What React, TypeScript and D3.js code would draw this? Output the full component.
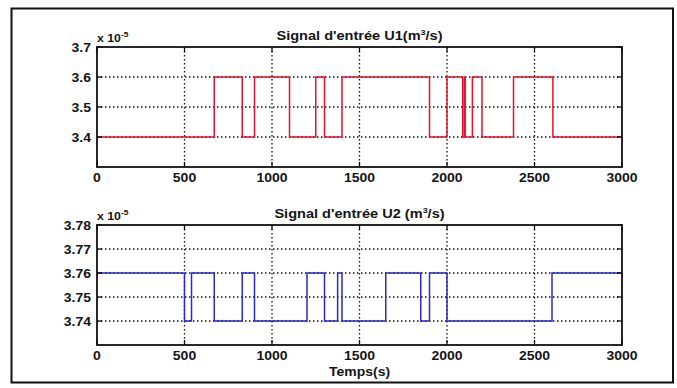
import React from "react";
import * as d3 from "d3";

const xTicks = [0, 500, 1000, 1500, 2000, 2500, 3000];

const u1Times = [0, 670, 830, 900, 1100, 1250, 1300, 1400, 1900, 2000, 2090, 2100, 2104, 2145, 2200, 2380, 2605, 3000];
const u1Levels = [3.4, 3.6, 3.4, 3.6, 3.4, 3.6, 3.4, 3.6, 3.4, 3.6, 3.4, 3.6, 3.4, 3.6, 3.4, 3.6, 3.4, 3.4];
const u1Ticks = [3.4, 3.5, 3.6, 3.7];
const u1Domain = [3.3, 3.7];

const u2Times = [0, 500, 540, 670, 830, 900, 1200, 1300, 1375, 1400, 1650, 1850, 1900, 2000, 2600, 3000];
const u2Levels = [3.76, 3.74, 3.76, 3.74, 3.76, 3.74, 3.76, 3.74, 3.76, 3.74, 3.76, 3.74, 3.76, 3.74, 3.76, 3.76];
const u2Ticks = [3.74, 3.75, 3.76, 3.77, 3.78];
const u2Domain = [3.73, 3.78];

const FONT = "'Liberation Sans', Arial, sans-serif";
const SX = 1.12;

function T({ x, y, anchor = "start", size = 12.5, children }: { x: number; y: number; anchor?: string; size?: number; children: React.ReactNode }) {
  return (
    <text
      transform={`translate(${x},${y}) scale(${SX},1)`}
      textAnchor={anchor}
      fontFamily={FONT}
      fontWeight="bold"
      fontSize={size}
      fill="#151515"
    >
      {children}
    </text>
  );
}

type PanelProps = {
  top: number;
  times: number[];
  levels: number[];
  yTicks: number[];
  yDomain: number[];
  yFmt: (v: number) => string;
  title: React.ReactNode;
  color: string;
};

const left = 97;
const right = 622;
const ph = 120;

function Panel({ top, times, levels, yTicks, yDomain, yFmt, title, color }: PanelProps) {
  const x = d3.scaleLinear().domain([0, 3000]).range([left, right]);
  const y = d3.scaleLinear().domain(yDomain).range([top + ph, top]);
  const pts: [number, number][] = times.map((t, i) => [t, levels[i]]);
  const line = d3
    .line<[number, number]>()
    .x((d) => x(d[0]))
    .y((d) => y(d[1]))
    .curve(d3.curveStepAfter);
  const bottom = top + ph;
  return (
    <g>
      {xTicks.slice(1, -1).map((t) => (
        <line key={"gx" + t} x1={x(t)} x2={x(t)} y1={top} y2={bottom} stroke="#111" strokeWidth={1.3} strokeDasharray="1.5,2.5" />
      ))}
      {yTicks
        .filter((v) => Math.abs(y(v) - top) > 1)
        .map((v) => (
          <line key={"gy" + v} x1={left} x2={right} y1={y(v)} y2={y(v)} stroke="#111" strokeWidth={1.3} strokeDasharray="1.5,2.5" />
        ))}
      <path d={line(pts) || ""} fill="none" stroke={color} strokeWidth={1.5} />
      {xTicks.map((t) => (
        <g key={"tx" + t}>
          <line x1={x(t)} x2={x(t)} y1={bottom} y2={bottom - 5} stroke="#000" strokeWidth={1.2} />
          <line x1={x(t)} x2={x(t)} y1={top} y2={top + 5} stroke="#000" strokeWidth={1.2} />
          <T x={x(t)} y={bottom + 15} anchor="middle">
            {t}
          </T>
        </g>
      ))}
      {yTicks.map((v) => (
        <g key={"ty" + v}>
          <line x1={left} x2={left + 5} y1={y(v)} y2={y(v)} stroke="#000" strokeWidth={1.2} />
          <line x1={right} x2={right - 5} y1={y(v)} y2={y(v)} stroke="#000" strokeWidth={1.2} />
          <T x={left - 6} y={y(v) + 4.5} anchor="end">
            {yFmt(v)}
          </T>
        </g>
      ))}
      <rect x={left} y={top} width={right - left} height={ph} fill="none" stroke="#111" strokeWidth={1.8} />
      <T x={left} y={top - 5} size={11}>
        x 10
        <tspan dy={-5} fontSize={7.5}>-5</tspan>
      </T>
      <T x={(left + right) / 2} y={top - 7} anchor="middle" size={13}>
        {title}
      </T>
    </g>
  );
}

export default function App() {
  return (
    <svg width={677} height={388} style={{ position: "absolute", left: 0, top: 0, background: "#fff" }}>
      <rect x={0} y={0} width={677} height={388} fill="#fff" />
      <rect x={11.5} y={8.5} width={661.5} height={374} fill="none" stroke="#111" strokeWidth={2} />
      <Panel
        top={47}
        times={u1Times}
        levels={u1Levels}
        yTicks={u1Ticks}
        yDomain={u1Domain}
        yFmt={(v) => v.toFixed(1)}
        color="#e8102e"
        title={
          <>
            Signal d'entrée U1(m<tspan dy={-5} fontSize={8}>3</tspan>
            <tspan dy={5}>/s)</tspan>
          </>
        }
      />
      <Panel
        top={225}
        times={u2Times}
        levels={u2Levels}
        yTicks={u2Ticks}
        yDomain={u2Domain}
        yFmt={(v) => v.toFixed(2)}
        color="#2a2ad0"
        title={
          <>
            Signal d'entrée U2 (m<tspan dy={-5} fontSize={8}>3</tspan>
            <tspan dy={5}>/s)</tspan>
          </>
        }
      />
      <T x={359.5} y={376} anchor="middle" size={12.5}>
        Temps(s)
      </T>
    </svg>
  );
}
